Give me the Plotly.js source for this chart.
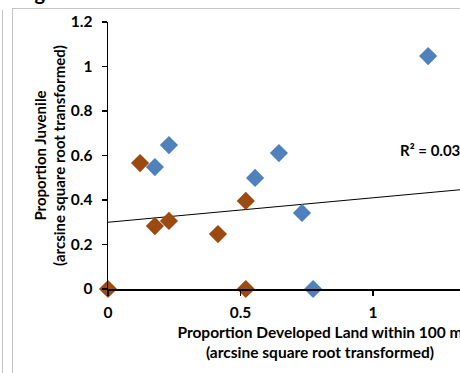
<!DOCTYPE html>
<html>
<head>
<meta charset="utf-8">
<script src="https://cdn.plot.ly/plotly-3.0.1.min.js"></script>
<style>
  html, body { margin: 0; padding: 0; width: 460px; height: 373px; overflow: hidden; background: #fff; }
  #wrap { position: relative; width: 460px; height: 373px; overflow: hidden; }
  .ln { position: absolute; background: #c4c4c4; }
  #fig { position: absolute; left: 18px; top: -20px; line-height: 20px; font: bold 20px Lato, "Open Sans", sans-serif; color: #000; }
  #chart { position: absolute; left: 0; top: 0; width: 600px; height: 373px; }
</style>
</head>
<body>
<div id="wrap">
  <div class="ln" style="left:2px; top:10px; width:1px; height:363px;"></div>
  <div class="ln" style="left:12px; top:8px; width:1px; height:365px;"></div>
  <div class="ln" style="left:12px; top:8px; width:448px; height:1px;"></div>
  <div id="fig">Figure</div>
  <div id="chart"></div>
</div>
<script>
// Series A (blue)
const blueX = [0.177, 0.23, 0.555, 0.645, 0.732, 0.774, 1.208];
const blueY = [0.548, 0.647, 0.499, 0.611, 0.342, 0.0, 1.047];
// Series B (brown)
const brownX = [0.0, 0.121, 0.177, 0.23, 0.415, 0.52, 0.52];
const brownY = [0.0, 0.566, 0.283, 0.306, 0.247, 0.396, 0.0];
// Linear trendline
const trendIntercept = 0.30;
const trendSlope = 0.11;
const r2Label = "R² = 0.0339";
const xTickVals = [0, 0.5, 1, 1.5];
const yTickVals = [0, 0.2, 0.4, 0.6, 0.8, 1, 1.2];
const xTitle = "Proportion Developed Land within 100 m<br>(arcsine square root transformed)";
const yTitle = "Proportion Juvenile<br>(arcsine square root transformed)";

const xMax = 1.6;
const fontFam = 'Lato, "Open Sans", "Liberation Sans", sans-serif';

const traces = [
  {
    x: [0, xMax], y: [trendIntercept, trendIntercept + trendSlope * xMax],
    mode: 'lines', type: 'scatter', line: {color: '#000', width: 1.2},
    hoverinfo: 'skip', showlegend: false
  },
  {
    x: blueX, y: blueY, mode: 'markers', type: 'scatter', cliponaxis: false,
    marker: {symbol: 'diamond', size: 14, color: '#4f81bd', line: {width: 0}},
    showlegend: false
  },
  {
    x: brownX, y: brownY, mode: 'markers', type: 'scatter', cliponaxis: false,
    marker: {symbol: 'diamond', size: 14, color: '#9c4a10', line: {width: 0}},
    showlegend: false
  }
];

const layout = {
  width: 600, height: 373,
  margin: {l: 108, r: 68, t: 22, b: 84},
  paper_bgcolor: 'rgba(0,0,0,0)',
  plot_bgcolor: 'rgba(0,0,0,0)',
  font: {family: fontFam, color: '#000'},
  showlegend: false,
  xaxis: {
    range: [0, xMax], tickvals: xTickVals, ticktext: xTickVals.map(String),
    showgrid: false, zeroline: false, showline: true, linecolor: '#000', linewidth: 1.5,
    ticks: 'outside', ticklen: 5, tickwidth: 1.5, tickcolor: '#000',
    ticklabelstandoff: 4,
    tickfont: {size: 15.5, family: fontFam, weight: 'bold'},
    title: {text: xTitle, font: {size: 15.5, family: fontFam, weight: 'bold'}, standoff: 7}
  },
  yaxis: {
    range: [0, 1.2], tickvals: yTickVals, ticktext: yTickVals.map(String),
    showgrid: false, zeroline: false, showline: true, linecolor: '#000', linewidth: 1.5,
    ticks: 'outside', ticklen: 5, tickwidth: 1.5, tickcolor: '#000',
    ticklabelstandoff: 6,
    tickfont: {size: 15.5, family: fontFam, weight: 'bold'},
    title: {text: yTitle, font: {size: 15, family: fontFam, weight: 'bold'}, standoff: 1}
  },
  annotations: [{
    x: 1.094, y: 0.625, xref: 'x', yref: 'y', text: r2Label, showarrow: false,
    xanchor: 'left', yanchor: 'middle',
    font: {size: 15, family: fontFam, weight: 'bold', color: '#000'}
  }]
};

Plotly.newPlot('chart', traces, layout, {displayModeBar: false, staticPlot: true});
</script>
</body>
</html>
